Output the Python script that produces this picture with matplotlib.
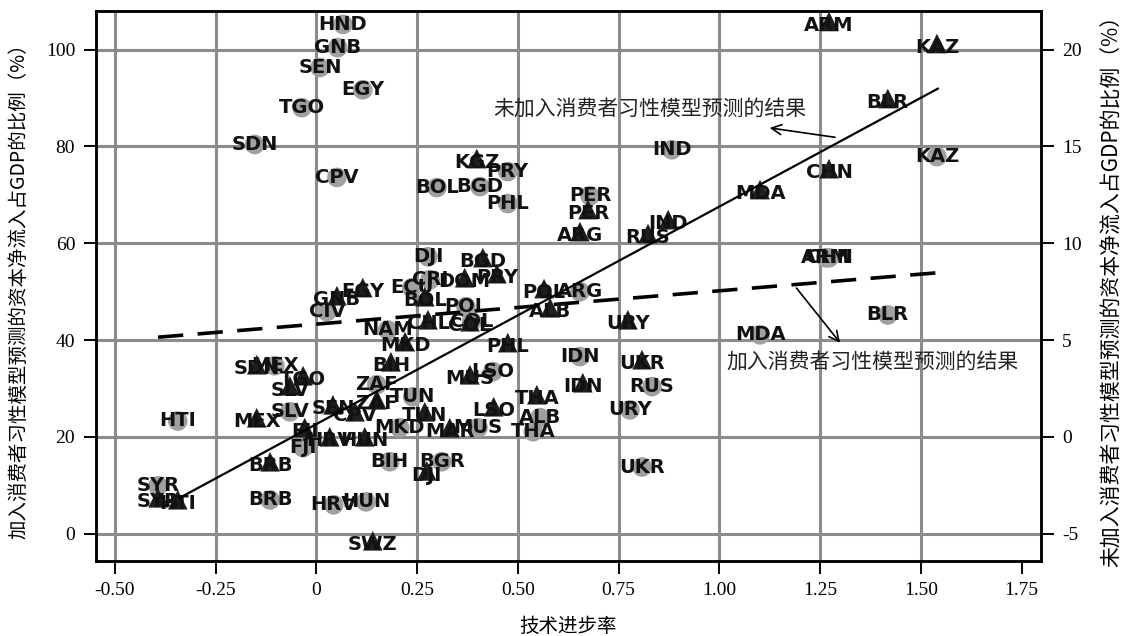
import matplotlib
matplotlib.use('Agg')
import matplotlib.pyplot as plt

# with consumer habit model (grey circles, left axis)
c_names = ['HND', 'GNB', 'SEN', 'EGY', 'TGO', 'SDN', 'CPV', 'BOL', 'BGD', 'PRY',
           'PHL', 'IND', 'PER', 'KAZ', 'ARM', 'CHN', 'BLR', 'MDA', 'DJI', 'CRI',
           'ECU', 'CIV', 'POL', 'ARG', 'NAM', 'COL', 'IDN', 'RUS', 'URY', 'LSO',
           'ALB', 'THA', 'MUS', 'MKD', 'TUN', 'ZAF', 'BGR', 'BIH', 'UKR', 'HRV',
           'HUN', 'BRB', 'SYR', 'HTI', 'FJI', 'SLV', 'MEX']
c_x = [0.066, 0.053, 0.009, 0.115, -0.036, -0.153, 0.051, 0.299, 0.406, 0.475,
       0.475, 0.882, 0.679, 1.540, 1.264, 1.272, 1.418, 1.101, 0.277, 0.282,
       0.237, 0.026, 0.371, 0.654, 0.177, 0.385, 0.654, 0.833, 0.778, 0.438,
       0.555, 0.538, 0.401, 0.207, 0.239, 0.150, 0.311, 0.182, 0.808, 0.043,
       0.123, -0.115, -0.393, -0.344, -0.033, -0.066, -0.103]
c_y = [105.2, 100.4, 96.3, 91.7, 88.0, 80.4, 73.6, 71.5, 71.7, 74.8,
       68.2, 79.3, 69.8, 77.9, 57.0, 57.0, 45.2, 41.1, 57.2, 52.5,
       50.8, 45.9, 46.9, 50.0, 42.1, 43.8, 36.6, 30.4, 25.6, 33.5,
       24.0, 21.1, 21.9, 21.9, 28.3, 30.8, 14.9, 14.9, 13.8, 6.0,
       6.6, 7.0, 9.9, 23.3, 17.8, 25.2, 34.7]

# without consumer habit model (black triangles, right axis)
t_names = ['ARM', 'KAZ', 'BLR', 'CHN', 'MDA', 'KGZ', 'PER', 'IND', 'RUS', 'ARG',
           'BGD', 'PRY', 'DOM', 'EGY', 'GNB', 'BOL', 'POL', 'ALB', 'URY', 'CHL',
           'COL', 'PHL', 'UKR', 'IDN', 'THA', 'LSO', 'MUS', 'MAR', 'TUN', 'ZAF',
           'SEN', 'CPV', 'MEX', 'HRV', 'HUN', 'BRB', 'SYR', 'HTI', 'SWZ', 'DJI',
           'TGO', 'SLV', 'SDN', 'BIH', 'MKD', 'FJI']
t_x = [1.272, 1.540, 1.418, 1.272, 1.101, 0.398, 0.674, 0.873, 0.823, 0.654,
       0.413, 0.448, 0.368, 0.115, 0.051, 0.269, 0.565, 0.580, 0.773, 0.277,
       0.381, 0.475, 0.808, 0.661, 0.547, 0.440, 0.381, 0.331, 0.269, 0.150,
       0.041, 0.096, -0.148, 0.033, 0.120, -0.115, -0.393, -0.344, 0.140, 0.274,
       -0.033, -0.066, -0.148, 0.185, 0.220, -0.029]
t_y = [21.45, 20.31, 17.47, 13.85, 12.77, 14.37, 11.74, 11.22, 10.50, 10.60,
       9.26, 8.43, 8.22, 7.71, 7.29, 7.24, 7.66, 6.67, 6.05, 6.05,
       5.95, 4.87, 3.99, 2.80, 2.18, 1.56, 3.21, 0.48, 1.30, 1.92,
       1.66, 1.30, 0.99, 0.01, 0.01, -1.28, -3.14, -3.24, -5.36, -1.75,
       3.16, 2.64, 3.73, 3.88, 4.92, 0.48]

# fitted lines (end points)
fit_habit_x = [-0.393, 1.54]
fit_habit_y = [40.6, 53.9]
fit_plain_x = [-0.339, 1.542]
fit_plain_y = [-3.14, 17.98]

xticks = [-0.5, -0.25, 0, 0.25, 0.5, 0.75, 1.0, 1.25, 1.5, 1.75]
xticklabels = ['-0.50', '-0.25', '0', '0.25', '0.50', '0.75', '1.00', '1.25', '1.50', '1.75']
yticks_left = [0, 20, 40, 60, 80, 100]
yticks_right = [-5, 0, 5, 10, 15, 20]

cjk = ['Noto Sans CJK SC', 'DejaVu Sans']
serif = 'Liberation Serif'

fig = plt.figure(figsize=(11.29, 6.36), dpi=100)
ax = fig.add_axes([0.085, 0.118, 0.837, 0.865])
ax2 = ax.twinx()

ax.set_xlim(-0.547, 1.798)
ax.set_ylim(-5.6, 108)
ax2.set_ylim(-6.4, 22)

# grid (no line at 1.75)
for v in xticks[:-1]:
    ax.axvline(v, color='#8c8c8c', lw=2.2, zorder=0)
for h in yticks_left:
    ax.axhline(h, color='#8c8c8c', lw=2.2, zorder=0)

ax.scatter(c_x, c_y, s=200, color='#a0a0a0', edgecolors='none', zorder=2)
for n, x, y in zip(c_names, c_x, c_y):
    ax.text(x, y, n, ha='center', va='center', fontsize=14, fontweight='bold',
            family='DejaVu Sans', color='#111111', zorder=3)

ax.plot(fit_habit_x, fit_habit_y, color='black', lw=2.6, dashes=(7, 4), zorder=4)

ax2.scatter(t_x, t_y, s=200, marker='^', color='#1e1e1e', edgecolors='none', zorder=2)
for n, x, y in zip(t_names, t_x, t_y):
    ax2.annotate(n, (x, y), xytext=(0, -3), textcoords='offset points',
                 ha='center', va='center', fontsize=14, fontweight='bold',
                 family='DejaVu Sans', color='#111111', zorder=3)

ax2.plot(fit_plain_x, fit_plain_y, color='black', lw=1.6, zorder=4)

# annotations
ax.annotate('', xy=(1.118, 83.9), xytext=(1.294, 81.8),
            arrowprops=dict(arrowstyle='->', color='black', lw=1.2, mutation_scale=18))
ax.text(0.827, 87.6, '未加入消费者习性模型预测的结果', ha='center', va='center',
        fontsize=15, family=cjk, color='#222222')
ax.annotate('', xy=(1.304, 39.0), xytext=(1.187, 51.2),
            arrowprops=dict(arrowstyle='->', color='black', lw=1.2, mutation_scale=18))
ax.text(1.381, 35.3, '加入消费者习性模型预测的结果', ha='center', va='center',
        fontsize=15, family=cjk, color='#222222')

# axes styling
ax.set_xticks(xticks)
ax.set_xticklabels(xticklabels, family=serif, fontsize=14)
ax.set_yticks(yticks_left)
ax.set_yticklabels([str(v) for v in yticks_left], family=serif, fontsize=14)
ax2.set_yticks(yticks_right)
ax2.set_yticklabels([str(v) for v in yticks_right], family=serif, fontsize=14)
for a in (ax, ax2):
    a.tick_params(direction='out', length=9, width=1.4, pad=6)
    for s in a.spines.values():
        s.set_linewidth(1.8)
        s.set_color('black')

ax.set_xlabel('技术进步率', family=cjk, fontsize=14, labelpad=12)
ax.set_ylabel('加入消费者习性模型预测的资本净流入占GDP的比例（%）', family=cjk, fontsize=14,
              labelpad=12)
ax2.set_ylabel('未加入消费者习性模型预测的资本净流入占GDP的比例（%）', family=cjk, fontsize=15,
               labelpad=14)

fig.savefig('out.png', dpi=100)
